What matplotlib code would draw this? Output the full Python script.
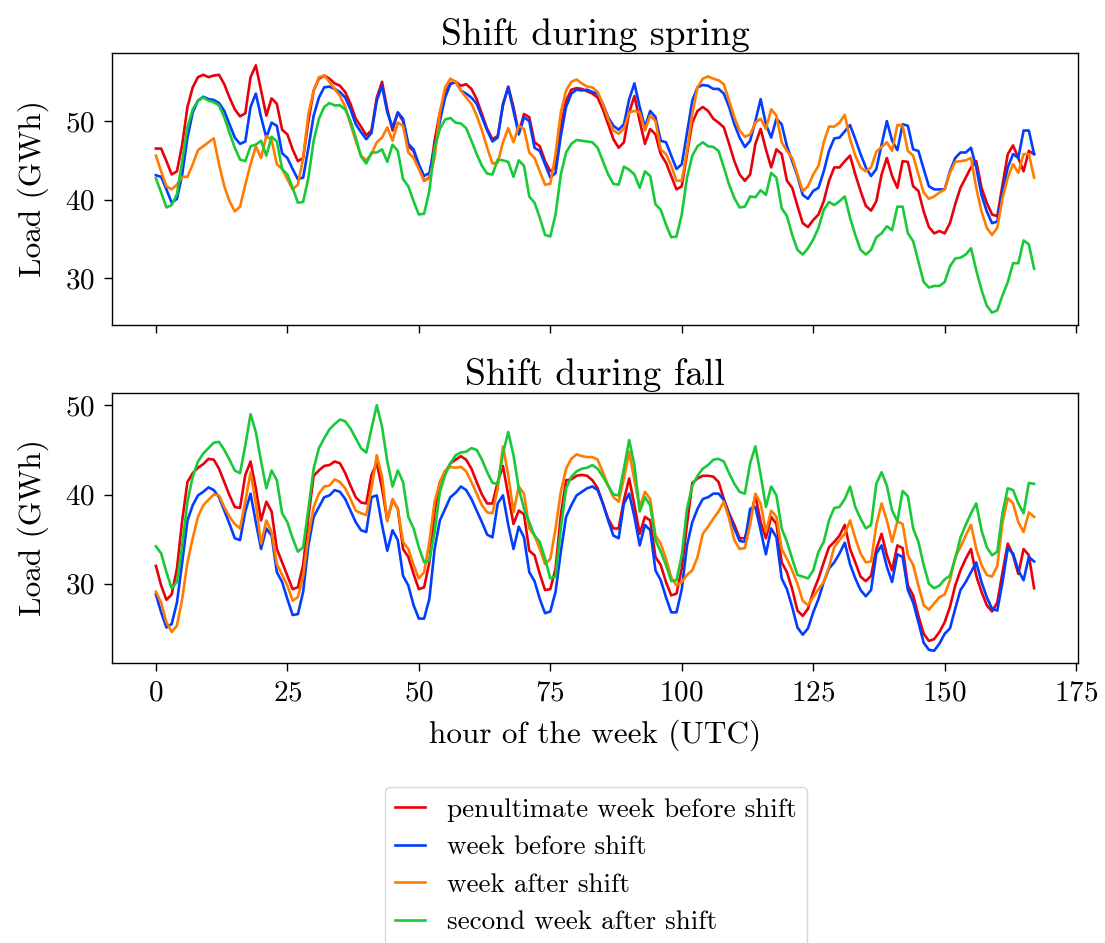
import matplotlib
matplotlib.use("Agg")
import matplotlib.pyplot as plt
import numpy as np

plt.rcParams['font.family'] = 'serif'
plt.rcParams['font.serif'] = ['cmr10']
plt.rcParams['mathtext.fontset'] = 'cm'
plt.rcParams['axes.formatter.use_mathtext'] = True
plt.rcParams['axes.unicode_minus'] = False

hours = np.arange(168)

labels = ["penultimate week before shift", "week before shift",
          "week after shift", "second week after shift"]
colors = ["#E8000B", "#023EFF", "#FF7C00", "#1AC938"]

spring_penultimate = [
    46.5, 46.5, 44.9, 43.2, 43.6, 47.0, 51.8, 54.3, 55.6, 55.9, 55.6, 55.8, 55.9, 54.7, 53.0, 51.5, 50.6, 51.0, 55.6, 57.1,
    53.9, 50.7, 52.9, 52.2, 48.9, 48.3, 46.4, 44.9, 45.3, 50.0, 53.9, 55.4, 55.8, 55.4, 54.8, 54.5, 53.7, 52.2, 50.3, 49.3,
    48.2, 48.8, 53.0, 55.0, 51.5, 48.8, 51.1, 50.0, 46.8, 46.2, 44.1, 42.4, 42.8, 47.5, 51.1, 53.5, 54.8, 55.0, 54.5, 54.7,
    54.1, 52.8, 50.9, 49.0, 47.7, 48.1, 52.0, 54.4, 51.8, 48.5, 50.9, 50.5, 47.3, 46.8, 44.9, 43.6, 44.1, 49.2, 52.6, 54.0,
    54.2, 54.1, 53.8, 53.5, 53.0, 51.5, 49.6, 47.7, 46.6, 47.3, 51.1, 53.2, 50.0, 47.1, 49.0, 48.3, 45.8, 44.7, 43.0, 41.3,
    41.7, 45.8, 49.8, 51.3, 51.8, 51.3, 50.3, 49.8, 49.2, 47.1, 44.9, 43.2, 42.4, 43.2, 47.1, 49.0, 46.4, 44.1, 46.4, 45.8,
    42.4, 41.5, 39.2, 37.0, 36.5, 37.4, 38.1, 39.8, 42.4, 44.1, 44.1, 44.9, 45.6, 43.2, 41.1, 39.2, 38.6, 39.8, 43.2, 45.3,
    43.0, 41.5, 44.9, 44.8, 41.7, 41.1, 38.5, 36.5, 35.7, 36.0, 35.7, 37.0, 39.4, 41.5, 42.8, 44.1, 44.9, 41.5, 39.6, 38.1,
    37.9, 41.9, 45.8, 46.9, 45.3, 43.6, 46.2, 45.8]

spring_before = [
    43.1, 42.9, 41.3, 39.6, 40.1, 43.2, 47.9, 51.1, 52.6, 53.1, 52.8, 52.7, 52.3, 51.3, 49.6, 47.9, 47.1, 47.4, 51.8, 53.5,
    50.5, 47.9, 49.8, 49.4, 45.9, 45.3, 43.9, 42.6, 42.8, 46.6, 50.7, 53.0, 54.3, 54.4, 54.1, 53.7, 53.0, 51.5, 49.6, 48.6,
    47.7, 48.5, 52.6, 54.5, 51.1, 49.2, 51.1, 50.3, 47.1, 46.4, 44.5, 43.0, 43.4, 46.6, 50.0, 53.0, 54.7, 55.0, 53.9, 53.5,
    53.0, 52.2, 50.5, 48.8, 47.4, 47.9, 52.2, 54.3, 51.3, 48.3, 50.5, 50.0, 46.6, 46.2, 44.5, 42.8, 43.4, 48.1, 51.8, 53.5,
    54.0, 53.9, 54.0, 53.7, 53.5, 52.2, 50.5, 49.4, 48.9, 49.6, 52.8, 54.8, 51.8, 49.2, 51.3, 50.5, 47.5, 47.3, 45.6, 43.9,
    44.5, 48.5, 52.6, 54.3, 54.6, 54.5, 54.1, 54.1, 53.5, 51.8, 49.6, 47.9, 46.7, 47.5, 50.0, 52.8, 49.6, 47.9, 50.3, 49.6,
    46.8, 44.9, 43.0, 40.6, 40.1, 41.1, 41.5, 43.6, 46.2, 47.8, 47.9, 48.7, 49.5, 47.7, 45.8, 44.1, 43.0, 43.9, 47.0, 50.0,
    47.5, 46.3, 49.6, 49.4, 46.4, 46.2, 43.9, 41.7, 41.3, 41.3, 41.3, 43.6, 45.3, 46.0, 46.0, 46.6, 44.1, 40.6, 38.5, 37.0,
    37.2, 41.1, 44.1, 45.8, 45.3, 48.8, 48.8, 45.8]

spring_after = [
    45.6, 43.6, 41.7, 41.3, 41.9, 42.9, 42.9, 44.5, 46.3, 46.8, 47.3, 47.8, 44.5, 41.7, 39.8, 38.5, 39.1, 41.9, 44.5, 46.8,
    45.3, 48.1, 47.6, 44.5, 43.9, 42.6, 41.3, 41.9, 45.3, 50.9, 53.9, 55.6, 55.8, 55.0, 54.1, 53.2, 51.8, 49.6, 47.5, 45.6,
    45.0, 45.8, 47.3, 47.9, 49.2, 47.5, 49.8, 49.4, 46.0, 45.3, 43.9, 42.4, 42.7, 45.3, 51.1, 54.3, 55.4, 55.0, 53.9, 53.0,
    52.2, 50.7, 48.8, 46.6, 44.6, 44.7, 47.3, 49.1, 47.3, 49.4, 49.0, 46.0, 45.3, 43.6, 41.9, 42.0, 45.8, 51.1, 53.9, 55.0,
    55.3, 54.8, 54.4, 54.3, 53.7, 52.2, 50.3, 48.8, 48.4, 49.0, 51.1, 51.3, 51.1, 48.8, 50.7, 50.0, 46.4, 45.8, 44.3, 42.4,
    42.4, 46.2, 50.9, 54.3, 55.4, 55.7, 55.4, 55.2, 54.7, 52.6, 50.5, 48.8, 48.0, 48.3, 49.8, 50.3, 49.0, 51.5, 50.7, 47.3,
    46.2, 45.3, 43.2, 41.1, 41.7, 43.2, 44.3, 47.3, 49.3, 49.3, 49.8, 50.8, 47.7, 45.6, 44.1, 43.6, 44.1, 46.1, 46.7, 47.3,
    46.2, 49.5, 49.4, 46.2, 45.6, 43.2, 40.9, 40.1, 40.4, 40.9, 41.3, 43.4, 44.8, 44.9, 45.0, 45.3, 41.5, 38.5, 36.4, 35.5,
    36.4, 40.2, 42.8, 44.5, 43.4, 45.8, 45.8, 42.8]

spring_second_after = [
    42.7, 40.9, 39.0, 39.3, 40.7, 44.9, 49.2, 51.5, 52.6, 53.0, 52.6, 52.4, 52.0, 50.5, 48.5, 46.6, 45.1, 44.9, 46.8, 47.0,
    47.5, 45.6, 48.0, 47.4, 43.9, 43.2, 41.5, 39.6, 39.7, 42.8, 47.5, 50.3, 51.8, 52.3, 52.0, 52.0, 51.5, 50.0, 47.9, 45.5,
    44.6, 46.0, 46.0, 46.4, 44.8, 47.0, 46.2, 42.6, 41.7, 39.8, 38.1, 38.2, 41.1, 46.6, 49.0, 50.2, 50.4, 49.8, 49.7, 49.1,
    47.5, 45.8, 44.3, 43.3, 43.2, 45.1, 45.0, 44.8, 42.9, 45.0, 44.3, 40.4, 39.6, 37.7, 35.5, 35.3, 38.1, 43.2, 46.0, 47.1,
    47.6, 47.5, 47.4, 47.3, 46.6, 44.9, 43.2, 42.0, 41.9, 44.2, 43.8, 43.2, 41.5, 43.6, 43.0, 39.4, 38.7, 36.8, 35.2, 35.3,
    38.1, 42.8, 45.6, 46.8, 47.3, 46.8, 46.7, 46.2, 44.1, 41.9, 40.2, 39.0, 39.1, 40.4, 40.3, 41.2, 40.6, 43.4, 42.8, 38.9,
    37.9, 35.5, 33.6, 33.0, 33.8, 34.9, 36.4, 38.7, 39.7, 39.3, 39.8, 40.4, 37.7, 35.5, 33.6, 33.0, 33.6, 35.2, 35.7, 36.6,
    36.1, 39.1, 39.1, 35.7, 34.7, 32.1, 29.5, 28.8, 29.0, 29.0, 29.5, 31.5, 32.5, 32.6, 33.0, 33.8, 31.0, 28.5, 26.5, 25.6,
    25.9, 27.8, 29.5, 31.9, 31.9, 34.8, 34.3, 31.2]

fall_penultimate = [
    32.0, 29.8, 28.2, 28.8, 31.7, 37.1, 41.4, 42.4, 43.0, 43.4, 44.0, 43.9, 42.9, 41.4, 39.9, 38.6, 38.5, 42.2, 43.7, 40.7,
    37.1, 39.2, 38.1, 33.9, 32.4, 30.9, 29.4, 29.6, 32.1, 37.5, 42.1, 42.7, 43.2, 43.3, 43.7, 43.5, 42.4, 41.0, 39.7, 39.1,
    39.0, 42.2, 43.5, 40.7, 37.1, 39.4, 38.4, 33.9, 33.0, 31.1, 29.4, 29.6, 32.4, 38.1, 41.4, 42.4, 43.5, 43.9, 44.3, 43.9,
    42.9, 41.4, 40.0, 39.0, 39.0, 41.4, 43.2, 39.9, 36.7, 38.2, 37.8, 33.7, 33.2, 31.1, 29.3, 29.4, 31.7, 37.7, 41.6, 41.7,
    42.1, 42.2, 42.1, 41.6, 40.7, 39.0, 37.3, 36.2, 36.2, 39.4, 41.8, 38.8, 35.6, 37.5, 37.1, 33.0, 32.1, 30.2, 28.7, 28.9,
    31.7, 36.7, 41.3, 41.8, 42.1, 42.1, 42.0, 41.4, 39.5, 37.9, 36.6, 35.1, 35.1, 37.3, 39.9, 36.9, 35.1, 37.5, 36.7, 32.4,
    31.3, 29.4, 27.0, 26.4, 27.2, 29.1, 30.6, 32.4, 34.1, 34.7, 35.4, 36.6, 33.9, 32.4, 30.8, 30.3, 30.9, 33.9, 35.6, 33.2,
    31.5, 34.3, 34.0, 29.8, 28.7, 26.4, 24.4, 23.6, 23.8, 24.6, 25.7, 27.4, 29.8, 31.5, 32.8, 33.9, 30.9, 29.1, 27.6, 26.9,
    27.9, 31.3, 34.5, 33.2, 31.1, 33.9, 33.2, 29.5]

fall_before = [
    28.8, 26.8, 25.1, 25.5, 27.9, 32.4, 37.1, 38.8, 39.9, 40.3, 40.8, 40.5, 39.7, 38.2, 36.7, 35.1, 34.9, 38.1, 40.1, 36.9,
    33.9, 36.2, 35.4, 31.3, 30.2, 28.3, 26.5, 26.6, 29.1, 34.3, 37.5, 38.6, 39.7, 39.9, 40.5, 40.3, 39.5, 38.2, 36.9, 36.0,
    35.8, 39.7, 39.9, 36.6, 33.7, 36.0, 34.9, 30.9, 29.8, 27.6, 26.1, 26.1, 28.3, 33.9, 37.1, 38.4, 39.7, 40.2, 40.9, 40.5,
    39.5, 38.2, 36.9, 35.5, 35.2, 39.0, 39.9, 36.6, 33.9, 36.4, 35.2, 31.3, 30.3, 28.3, 26.7, 26.9, 29.1, 33.6, 37.5, 38.8,
    39.9, 40.3, 40.7, 40.9, 40.5, 39.0, 37.1, 35.4, 35.1, 39.0, 40.1, 37.5, 34.3, 36.6, 36.0, 31.5, 30.4, 28.5, 26.8, 26.8,
    29.4, 34.3, 36.9, 38.4, 39.5, 39.7, 40.1, 40.1, 39.4, 37.7, 36.2, 34.8, 34.7, 38.4, 38.6, 36.0, 33.3, 36.2, 35.2, 30.6,
    29.4, 27.4, 25.1, 24.3, 25.0, 26.8, 28.3, 30.2, 31.7, 32.4, 33.4, 34.6, 32.2, 30.6, 29.3, 28.6, 29.3, 33.4, 34.3, 31.9,
    30.2, 33.3, 33.0, 29.3, 27.9, 25.7, 23.4, 22.6, 22.5, 23.3, 24.4, 25.0, 27.2, 29.3, 30.2, 31.3, 32.4, 30.2, 28.5, 27.2,
    27.0, 30.2, 34.0, 33.4, 31.5, 30.4, 33.0, 32.5]

fall_after = [
    29.1, 27.9, 25.7, 24.6, 25.3, 28.3, 32.4, 35.1, 37.5, 38.8, 39.4, 40.0, 39.9, 38.6, 37.5, 36.7, 36.2, 39.2, 42.5, 39.0,
    34.5, 37.1, 35.8, 32.2, 31.0, 29.8, 28.1, 28.5, 30.9, 35.4, 38.6, 40.1, 40.9, 41.0, 41.7, 41.4, 40.7, 39.5, 38.2, 37.9,
    37.7, 40.7, 44.4, 42.0, 37.0, 39.5, 38.4, 34.7, 33.9, 32.1, 30.6, 31.3, 34.7, 39.2, 41.4, 42.7, 43.1, 43.0, 43.1, 42.6,
    41.4, 40.1, 38.8, 38.0, 37.9, 40.7, 45.4, 42.2, 38.0, 40.9, 40.1, 36.2, 35.4, 33.9, 32.2, 32.8, 36.2, 40.3, 42.9, 44.0,
    44.5, 44.3, 44.2, 44.2, 43.9, 42.5, 41.0, 39.7, 39.2, 41.8, 44.8, 41.6, 38.6, 40.3, 39.5, 35.4, 34.5, 32.8, 30.7, 29.8,
    30.2, 31.0, 31.5, 33.0, 35.6, 36.4, 37.3, 38.1, 39.2, 37.3, 34.9, 33.9, 34.0, 36.6, 40.1, 39.0, 35.8, 38.2, 37.5, 33.9,
    32.8, 31.5, 30.0, 28.1, 27.6, 28.5, 29.4, 30.2, 31.9, 34.1, 34.9, 35.6, 37.1, 35.1, 33.4, 32.4, 32.5, 36.6, 39.0, 37.1,
    34.7, 37.0, 36.7, 33.2, 32.1, 29.8, 27.6, 27.1, 27.8, 28.5, 28.8, 30.4, 33.0, 34.1, 35.4, 36.6, 33.9, 32.1, 31.0, 30.8,
    32.0, 36.9, 39.6, 39.0, 36.9, 35.8, 38.0, 37.5]

fall_second_after = [
    34.2, 33.4, 31.3, 29.5, 30.2, 34.3, 39.2, 42.0, 43.7, 44.6, 45.2, 45.8, 45.9, 45.0, 43.9, 42.7, 42.4, 45.5, 49.0, 47.0,
    43.7, 40.7, 42.7, 41.6, 37.9, 36.9, 35.1, 33.6, 34.1, 38.4, 42.9, 45.2, 46.3, 47.3, 47.9, 48.4, 48.2, 47.4, 46.3, 45.2,
    44.7, 47.4, 50.0, 47.6, 43.7, 40.9, 42.7, 41.4, 37.5, 36.2, 34.1, 32.4, 32.6, 35.8, 40.3, 42.2, 43.5, 44.4, 44.7, 44.8,
    45.2, 45.0, 43.9, 42.5, 41.3, 41.2, 44.6, 47.0, 44.4, 40.7, 38.4, 36.9, 35.4, 34.7, 32.8, 30.6, 30.8, 36.2, 40.7, 42.0,
    42.6, 42.9, 43.0, 43.3, 42.9, 42.0, 41.0, 40.0, 39.9, 42.9, 46.1, 43.3, 38.1, 39.7, 38.8, 34.9, 33.6, 32.1, 30.3, 30.4,
    33.2, 38.4, 41.0, 42.1, 42.9, 43.3, 43.9, 44.0, 43.7, 42.4, 41.2, 40.3, 40.1, 43.5, 45.4, 42.2, 38.6, 40.9, 39.9, 36.2,
    34.7, 32.8, 31.0, 30.8, 30.6, 31.5, 33.6, 34.7, 37.1, 38.5, 38.6, 39.5, 40.9, 38.6, 37.3, 36.2, 36.6, 41.2, 42.5, 41.0,
    38.2, 37.0, 40.4, 39.8, 36.2, 34.7, 32.1, 30.0, 29.5, 29.8, 30.5, 30.9, 32.8, 35.2, 36.6, 37.9, 39.0, 36.0, 34.1, 33.2,
    33.6, 38.0, 40.7, 40.5, 39.0, 37.9, 41.3, 41.2]

spring = [spring_penultimate, spring_before, spring_after, spring_second_after]
fall = [fall_penultimate, fall_before, fall_after, fall_second_after]

W, H = 1105, 943
fig = plt.figure(figsize=(W / 100, H / 100), dpi=100)
left = 112 / W
width = (1078 - 112) / W
ax1 = fig.add_axes([left, 1 - 325 / H, width, (325 - 53) / H])
ax2 = fig.add_axes([left, 1 - 663 / H, width, (663 - 393) / H], sharex=ax1)

handles = []
for series, c, lab in zip(spring, colors, labels):
    h, = ax1.plot(hours, series, color=c, lw=1.9, label=lab)
    handles.append(h)
for series, c in zip(fall, colors):
    ax2.plot(hours, series, color=c, lw=1.9)

tick_fs = 21
lab_fs = 22.5
ax1.set_title("Shift during spring", fontsize=27)
ax2.set_title("Shift during fall", fontsize=27)
ax1.set_ylabel("Load (GWh)", fontsize=lab_fs, labelpad=11)
ax2.set_ylabel("Load (GWh)", fontsize=lab_fs, labelpad=11)
ax2.set_xlabel("hour of the week (UTC)", fontsize=lab_fs, labelpad=9)
for ax in (ax1, ax2):
    ax.tick_params(labelsize=tick_fs, length=5.5, width=1.0, pad=7)
    for sp in ax.spines.values():
        sp.set_linewidth(1.0)
ax1.tick_params(labelbottom=False)
ax1.set_yticks([30, 40, 50])
ax2.set_yticks([30, 40, 50])
ax2.set_xticks([0, 25, 50, 75, 100, 125, 150, 175])

fig.legend(handles=handles, loc="upper center",
           bbox_to_anchor=(596 / W, 1 - 787 / H), borderaxespad=0,
           fontsize=19.5, handlelength=1.1, labelspacing=0.5, frameon=True)

fig.savefig("out.png", dpi=100)
